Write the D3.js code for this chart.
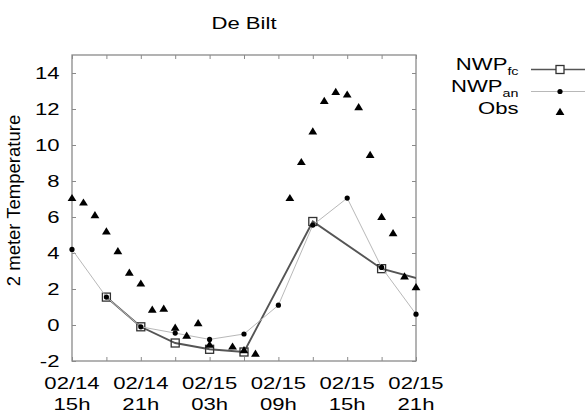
<!DOCTYPE html>
<html>
<head>
<meta charset="utf-8">
<script src="https://cdn.jsdelivr.net/npm/d3@7"></script>
<style>
  html, body { margin: 0; padding: 0; background: #fff; }
  svg { display: block; font-family: "Liberation Sans", Arial, Helvetica, sans-serif; }
</style>
</head>
<body>
<svg id="chart" width="585" height="414"></svg>
<script>
// Hours counted from 02/14 15h
const obsHours = [0, 1, 2, 3, 4, 5, 6, 7, 8, 9, 10, 11, 12, 14, 15, 16,
                  19, 20, 21, 22, 23, 24, 25, 26, 27, 28, 29, 30];
const obsTemp  = [7.05, 6.8, 6.1, 5.2, 4.1, 2.9, 2.3, 0.85, 0.9, -0.15, -0.6, 0.1, -1.1, -1.2, -1.4, -1.6,
                  7.05, 9.05, 10.75, 12.45, 12.95, 12.8, 12.1, 9.45, 6.0, 5.1, 2.7, 2.1];

const anHours = [0, 3, 6, 9, 12, 15, 18, 21, 24, 27, 30];
const anTemp  = [4.2, 1.55, -0.1, -0.45, -0.8, -0.5, 1.1, 5.55, 7.05, 3.2, 0.6];

const fcHours = [3, 6, 9, 12, 15, 21, 27, 33];
const fcTemp  = [1.55, -0.1, -1.0, -1.35, -1.5, 5.75, 3.13, 2.1];

const tickHours  = [0, 6, 12, 18, 24, 30];
const tickDates  = ["02/14", "02/14", "02/15", "02/15", "02/15", "02/15"];
const tickClock  = ["15h", "21h", "03h", "09h", "15h", "21h"];
const yTicks     = [-2, 0, 2, 4, 6, 8, 10, 12, 14];

const FONT = 17, SX = 1.3;
const frameColor = "#8a8a8a";

const svg = d3.select("#chart");
const pLeft = 72, pRight = 416, pTop = 55, pBottom = 361;

const x = d3.scaleLinear().domain([0, 30]).range([pLeft, pRight]);
const y = d3.scaleLinear().domain([-2, 15]).range([pBottom, pTop]);

// horizontally widened text
function wideText(parent, px, py, anchor, size) {
  return parent.append("g")
    .attr("transform", `translate(${px},${py}) scale(${SX},1)`)
    .append("text")
    .attr("text-anchor", anchor)
    .attr("font-size", size)
    .attr("fill", "#000");
}

// tick marks, pointing inward on all four sides
const tickStyle = g => {
  g.select(".domain").remove();
  g.selectAll("line").attr("stroke", frameColor).attr("stroke-width", 1);
};
svg.append("g").attr("transform", `translate(0,${pBottom})`)
  .call(d3.axisBottom(x).tickValues(d3.range(0, 31, 3)).tickSize(-4).tickFormat(""))
  .call(tickStyle);
svg.append("g").attr("transform", `translate(0,${pTop})`)
  .call(d3.axisTop(x).tickValues(d3.range(0, 31, 3)).tickSize(-4).tickFormat(""))
  .call(tickStyle);
svg.append("g").attr("transform", `translate(${pLeft},0)`)
  .call(d3.axisLeft(y).tickValues(yTicks).tickSize(-4).tickFormat(""))
  .call(tickStyle);
svg.append("g").attr("transform", `translate(${pRight},0)`)
  .call(d3.axisRight(y).tickValues(yTicks).tickSize(-4).tickFormat(""))
  .call(tickStyle);

// frame
svg.append("rect")
  .attr("x", pLeft).attr("y", pTop)
  .attr("width", pRight - pLeft).attr("height", pBottom - pTop)
  .attr("fill", "none").attr("stroke", frameColor).attr("stroke-width", 1.3);

// y tick labels
yTicks.forEach(v => {
  wideText(svg, 59.5, y(v) + 6, "end", FONT).text(v);
});

// x tick labels, two lines
tickHours.forEach((h, i) => {
  wideText(svg, x(h), 388.5, "middle", FONT).text(tickDates[i]);
  wideText(svg, x(h), 409.5, "middle", FONT).text(tickClock[i]);
});

// title
wideText(svg, (pLeft + pRight) / 2, 28.5, "middle", FONT).text("De Bilt");

// y axis title
svg.append("text")
  .attr("transform", `translate(20,${(pTop + pBottom) / 2 - 7.5}) rotate(-90)`)
  .attr("text-anchor", "middle")
  .attr("font-size", 18.5)
  .text("2 meter Temperature");

// plotting area clip
svg.append("clipPath").attr("id", "plotClip")
  .append("rect").attr("x", pLeft).attr("y", pTop)
  .attr("width", pRight - pLeft).attr("height", pBottom - pTop);

const plot = svg.append("g").attr("clip-path", "url(#plotClip)");
const line = d3.line().x(d => x(d[0])).y(d => y(d[1]));

const fcPts = fcHours.map((h, i) => [h, fcTemp[i]]);
const anPts = anHours.map((h, i) => [h, anTemp[i]]);
const obsPts = obsHours.map((h, i) => [h, obsTemp[i]]);

const fcColor = "#555", anColor = "#b8b8b8";
const sq = 8;
const triPath = "M0,-4.2L4.4,3L-4.4,3Z";

// forecast: thick line with open squares
plot.append("path").datum(fcPts).attr("d", line)
  .attr("fill", "none").attr("stroke", fcColor).attr("stroke-width", 1.9);
plot.selectAll(".fc").data(fcPts.filter(d => d[0] <= 30)).join("rect")
  .attr("x", d => x(d[0]) - sq / 2).attr("y", d => y(d[1]) - sq / 2)
  .attr("width", sq).attr("height", sq)
  .attr("fill", "none").attr("stroke", "#333").attr("stroke-width", 1.3);

// analysis: thin line with dots
plot.append("path").datum(anPts).attr("d", line)
  .attr("fill", "none").attr("stroke", anColor).attr("stroke-width", 1);
svg.selectAll(".an").data(anPts).join("circle")
  .attr("cx", d => x(d[0])).attr("cy", d => y(d[1])).attr("r", 2.6)
  .attr("fill", "#000");

// observations: filled triangles
svg.selectAll(".obs").data(obsPts).join("path")
  .attr("d", triPath)
  .attr("transform", d => `translate(${x(d[0])},${y(d[1])})`)
  .attr("fill", "#000");

// legend
const legRows = [69.5, 91.5, 114];
const lx1 = 531, lx2 = 590, lmid = 560, textRight = 518.5;

const t1 = wideText(svg, textRight, legRows[0], "end", FONT);
t1.append("tspan").text("NWP");
t1.append("tspan").attr("font-size", 11).attr("dy", 5.5).text("fc");
svg.append("line").attr("x1", lx1).attr("x2", lx2).attr("y1", legRows[0]).attr("y2", legRows[0])
  .attr("stroke", fcColor).attr("stroke-width", 1.5);
svg.append("rect").attr("x", lmid - sq / 2).attr("y", legRows[0] - sq / 2)
  .attr("width", sq).attr("height", sq)
  .attr("fill", "#fff").attr("stroke", "#333").attr("stroke-width", 1.3);

const t2 = wideText(svg, textRight, legRows[1], "end", FONT);
t2.append("tspan").text("NWP");
t2.append("tspan").attr("font-size", 11).attr("dy", 5.5).text("an");
svg.append("line").attr("x1", lx1).attr("x2", lx2).attr("y1", legRows[1]).attr("y2", legRows[1])
  .attr("stroke", anColor).attr("stroke-width", 1);
svg.append("circle").attr("cx", lmid).attr("cy", legRows[1]).attr("r", 2.6).attr("fill", "#000");

wideText(svg, textRight, legRows[2], "end", FONT).text("Obs");
svg.append("path").attr("d", triPath)
  .attr("transform", `translate(${lmid},${legRows[2] - 2})`).attr("fill", "#000");
</script>
</body>
</html>
